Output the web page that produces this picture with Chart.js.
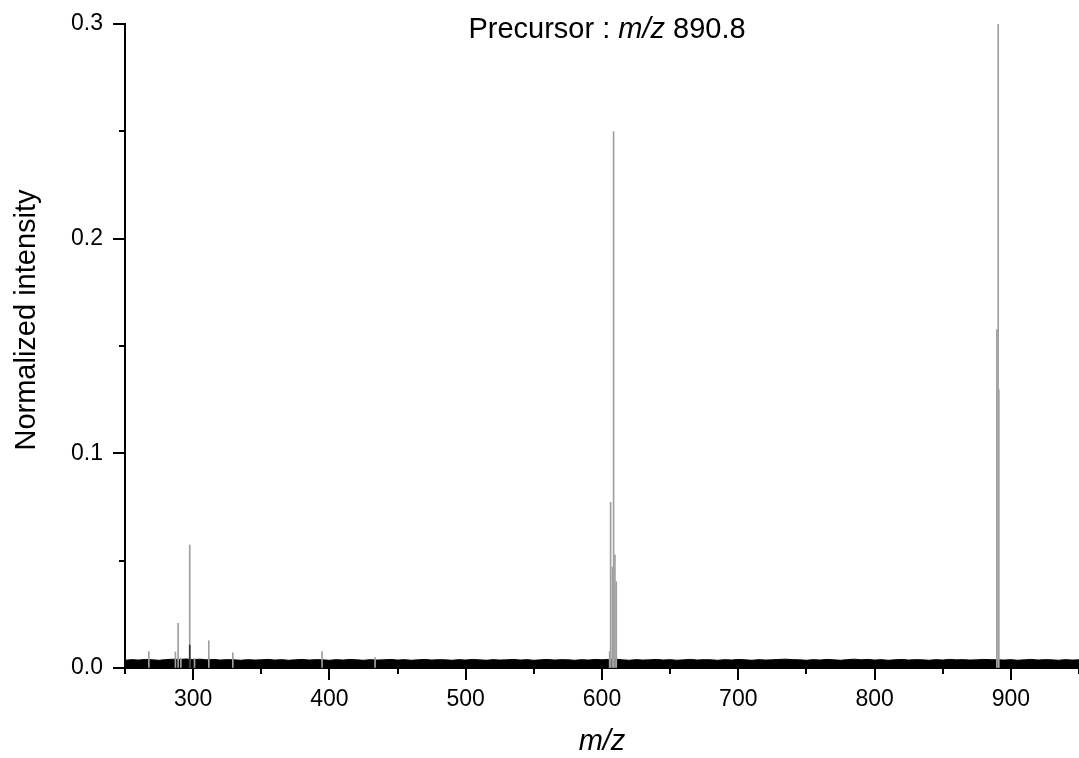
<!DOCTYPE html>
<html><head><meta charset="utf-8">
<script src="https://cdn.jsdelivr.net/npm/chart.js@4.4.0/dist/chart.umd.min.js"></script>
<style>html,body{margin:0;padding:0;background:#fff}#wrap{width:1079px;height:758px}</style>
</head><body><div id="wrap"><canvas id="c" width="1079" height="758"></canvas></div>
<script>
// Peak list (m/z, normalized intensity)
const peakMz  = [267.5, 287.0, 289.0, 291.0, 297.5, 301.0, 311.5, 329.1, 394.6, 433.5,
                 605.6, 606.3, 607.6, 608.5, 609.5, 610.5, 889.7, 890.7, 891.2];
const peakInt = [0.0076, 0.0075, 0.0208, 0.0045, 0.0573, 0.0045, 0.0127, 0.0071, 0.0076, 0.0048,
                 0.0076, 0.0772, 0.0470, 0.2499, 0.0527, 0.0402, 0.1576, 0.3000, 0.1296];
// dark short line overlapping the 297 peak
const darkMz  = [297.5];
const darkInt = [0.0107];
// baseline noise envelope (every 5 m/z)
const noiseMz = [250,255,260,265,270,275,280,285,290,295,300,305,310,315,320,325,330,335,340,345,
                 350,355,360,365,370,375,380,385,390,395,400,405,410,415,420,425,430,435,440,445,
                 450,455,460,465,470,475,480,485,490,495,500,505,510,515,520,525,530,535,540,545,
                 550,555,560,565,570,575,580,585,590,595,600,605,610,615,620,625,630,635,640,645,
                 650,655,660,665,670,675,680,685,690,695,700,705,710,715,720,725,730,735,740,745,
                 750,755,760,765,770,775,780,785,790,795,800,805,810,815,820,825,830,835,840,845,
                 850,855,860,865,870,875,880,885,890,895,900,905,910,915,920,925,930,935,940,945,950];
const noiseInt = [0.0036,0.0039,0.0037,0.0040,0.0038,0.0036,0.0039,0.0041,0.0040,0.0042,
                  0.0039,0.0041,0.0038,0.0040,0.0037,0.0039,0.0038,0.0036,0.0039,0.0037,
                  0.0038,0.0040,0.0037,0.0039,0.0036,0.0038,0.0040,0.0037,0.0039,0.0038,
                  0.0036,0.0039,0.0037,0.0040,0.0038,0.0036,0.0039,0.0037,0.0038,0.0040,
                  0.0037,0.0039,0.0036,0.0038,0.0040,0.0037,0.0039,0.0038,0.0036,0.0039,
                  0.0037,0.0040,0.0038,0.0036,0.0039,0.0037,0.0038,0.0040,0.0037,0.0039,
                  0.0036,0.0038,0.0040,0.0037,0.0039,0.0038,0.0036,0.0039,0.0037,0.0040,
                  0.0038,0.0040,0.0041,0.0038,0.0036,0.0039,0.0037,0.0038,0.0040,0.0037,
                  0.0039,0.0036,0.0038,0.0040,0.0037,0.0039,0.0038,0.0036,0.0039,0.0037,
                  0.0040,0.0038,0.0036,0.0039,0.0037,0.0038,0.0040,0.0041,0.0039,0.0038,
                  0.0036,0.0039,0.0037,0.0040,0.0038,0.0036,0.0039,0.0041,0.0038,0.0040,
                  0.0037,0.0039,0.0036,0.0038,0.0040,0.0037,0.0039,0.0038,0.0036,0.0039,
                  0.0037,0.0040,0.0038,0.0039,0.0037,0.0038,0.0040,0.0039,0.0038,0.0037,
                  0.0039,0.0036,0.0038,0.0040,0.0037,0.0039,0.0038,0.0036,0.0039,0.0037,0.0038];
const xMajorTicks = [300,400,500,600,700,800,900];
const yMajorTicks = [0.0,0.1,0.2,0.3];
const titleParts = [["Precursor : ", "normal"], ["m/z", "italic"], [" 890.8", "normal"]];
const yTitle = "Normalized intensity";

const FONT = "Arial, 'Liberation Sans', sans-serif";

const tickPlugin = {
  id: 'customTicks',
  afterDraw(chart) {
    const ctx = chart.ctx, xs = chart.scales.x, ys = chart.scales.y;
    ctx.save();
    ctx.strokeStyle = '#000';
    ctx.lineWidth = 2;
    xs.ticks.forEach(t => {
      const px = Math.round(xs.getPixelForValue(t.value));
      const major = xMajorTicks.includes(t.value);
      ctx.beginPath(); ctx.moveTo(px, xs.top); ctx.lineTo(px, xs.top + (major ? 12 : 6)); ctx.stroke();
    });
    ys.ticks.forEach(t => {
      const py = Math.round(ys.getPixelForValue(t.value));
      const major = yMajorTicks.some(v => Math.abs(v - t.value) < 1e-9);
      ctx.beginPath(); ctx.moveTo(ys.right, py); ctx.lineTo(ys.right - (major ? 12 : 6), py); ctx.stroke();
    });
    // title with italic m/z
    ctx.fillStyle = '#000';
    ctx.textBaseline = 'middle';
    const widths = titleParts.map(([s, st]) => { ctx.font = st + " 29px " + FONT; return ctx.measureText(s).width; });
    const total = widths.reduce((a, b) => a + b, 0);
    let x = 607 - total / 2;
    titleParts.forEach(([s, st], i) => {
      ctx.font = st + " 29px " + FONT;
      ctx.textAlign = 'left';
      ctx.fillText(s, x, 30);
      x += widths[i];
    });
    // y axis title (rotated)
    ctx.save();
    ctx.translate(27, 320);
    ctx.rotate(-Math.PI / 2);
    ctx.font = "29px " + FONT;
    ctx.textAlign = 'center';
    ctx.textBaseline = 'middle';
    ctx.fillText(yTitle, 0, 0);
    ctx.restore();
    ctx.restore();
  }
};

new Chart(document.getElementById('c'), {
  type: 'bar',
  data: {
    datasets: [
      {
        type: 'line',
        data: noiseMz.map((m, i) => ({x: m, y: noiseInt[i]})),
        borderColor: '#000', backgroundColor: '#000', borderWidth: 1,
        pointRadius: 0, fill: 'origin', tension: 0, order: 3
      },
      {
        type: 'bar',
        data: peakMz.map((m, i) => ({x: m, y: peakInt[i]})),
        backgroundColor: '#a0a0a0', barThickness: 1, grouped: false, order: 2
      },
      {
        type: 'bar',
        data: darkMz.map((m, i) => ({x: m, y: darkInt[i]})),
        backgroundColor: '#333', barThickness: 1, grouped: false, order: 1
      }
    ]
  },
  options: {
    responsive: false, animation: false, devicePixelRatio: 1,
    layout: {padding: {top: 24, right: 0, left: 0, bottom: 0}},
    plugins: {legend: {display: false}, tooltip: {enabled: false}, title: {display: false}},
    scales: {
      x: {
        type: 'linear', min: 250, max: 950, offset: false,
        ticks: {stepSize: 50, autoSkip: false, maxRotation: 0, color: '#000',
          font: {family: FONT, size: 23}, padding: 6,
          callback: v => xMajorTicks.includes(v) ? String(v) : ''},
        grid: {drawOnChartArea: false, drawTicks: true, tickLength: 12, color: 'rgba(0,0,0,0)'},
        border: {display: true, color: '#000', width: 2},
        title: {display: true, text: 'm/z', color: '#000', font: {family: FONT, size: 29, style: 'italic', lineHeight: 1.0}, padding: {top: 0, bottom: 2}},
        afterFit: s => { s.height = 90; s.paddingLeft = 0; s.paddingRight = 0; }
      },
      y: {
        min: 0, max: 0.3,
        ticks: {stepSize: 0.05, color: '#000', font: {family: FONT, size: 23}, padding: 10,
          callback: v => yMajorTicks.some(t => Math.abs(t - v) < 1e-9) ? v.toFixed(1) : ''},
        grid: {drawOnChartArea: false, drawTicks: true, tickLength: 12, color: 'rgba(0,0,0,0)'},
        border: {display: true, color: '#000', width: 2},
        title: {display: false},
        afterFit: s => { s.width = 125; s.paddingTop = 0; s.paddingBottom = 0; }
      }
    }
  },
  plugins: [tickPlugin]
});
</script></body></html>
